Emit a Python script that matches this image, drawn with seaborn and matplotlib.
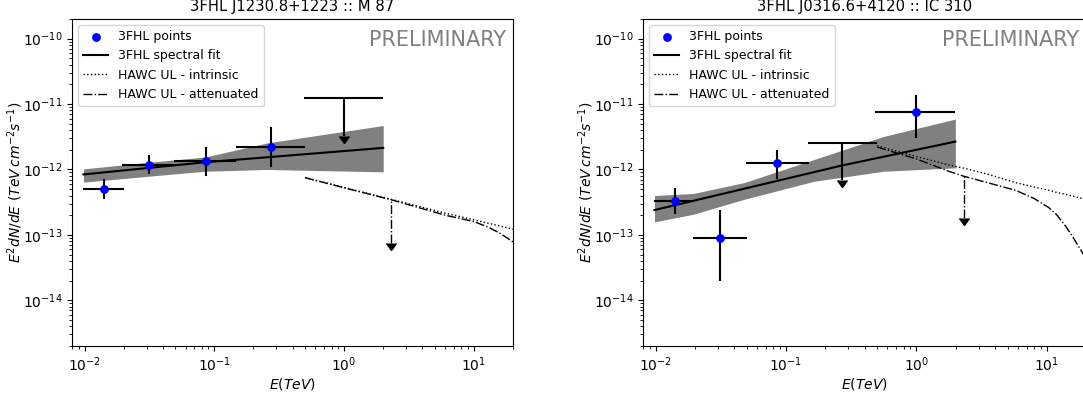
import numpy as np
import matplotlib
matplotlib.use("Agg")
import matplotlib.pyplot as plt
import seaborn as sns

# ---------------- M 87 (left panel) ----------------
m87_title = "3FHL J1230.8+1223 :: M 87"
m87_E = [0.0141, 0.0313, 0.0863, 0.272]
m87_F = [5.1e-13, 1.19e-12, 1.37e-12, 2.22e-12]
m87_E_lo = [0.00976, 0.0194, 0.0488, 0.147]
m87_E_hi = [0.020, 0.0503, 0.147, 0.50]
m87_F_lo = [3.5e-13, 8.4e-13, 7.9e-13, 1.1e-12]
m87_F_hi = [7.2e-13, 1.69e-12, 2.2e-12, 4.47e-12]
m87_ul_E = [1.0]
m87_ul_E_lo = [0.49]
m87_ul_E_hi = [2.0]
m87_ul_F = [1.26e-11]
m87_ul_end = [3.2e-12]
m87_fit_E = [0.0098, 0.085, 2.0]
m87_fit_F = [8.4e-13, 1.29e-12, 2.14e-12]
m87_band_E = [0.0098, 0.0313, 0.0848, 0.256, 2.0]
m87_band_lo = [6.4e-13, 7.9e-13, 9.4e-13, 1.0e-12, 9.2e-13]
m87_band_hi = [1.02e-12, 1.29e-12, 1.55e-12, 2.55e-12, 4.7e-12]
m87_hawc_E = [0.5, 1.0, 2.3, 6.0, 10.0, 13.0, 16.0, 20.0]
m87_hawc_int = [7.5e-13, 5.3e-13, 3.5e-13, 2.15e-13, 1.7e-13, 1.5e-13, 1.36e-13, 1.22e-13]
m87_hawc_att = [7.5e-13, 5.25e-13, 3.45e-13, 2.0e-13, 1.6e-13, 1.3e-13, 1.05e-13, 7.8e-14]
m87_hul_E = [2.3]
m87_hul_F = [3.45e-13]
m87_hul_end = [7.5e-14]

# ---------------- IC 310 (right panel) ----------------
ic_title = "3FHL J0316.6+4120 :: IC 310"
ic_E = [0.0141, 0.0313, 0.0858, 1.0]
ic_F = [3.3e-13, 9.1e-14, 1.26e-12, 7.5e-12]
ic_E_lo = [0.0098, 0.0195, 0.0489, 0.48]
ic_E_hi = [0.0195, 0.0498, 0.151, 1.99]
ic_F_lo = [2.1e-13, 2.0e-14, 7.2e-13, 3.0e-12]
ic_F_hi = [5.3e-13, 2.4e-13, 2.0e-12, 1.38e-11]
ic_ul_E = [0.268]
ic_ul_E_lo = [0.147]
ic_ul_E_hi = [0.502]
ic_ul_F = [2.55e-12]
ic_ul_end = [6.9e-13]
ic_fit_E = [0.0098, 0.268, 1.99]
ic_fit_F = [2.4e-13, 1.15e-12, 2.67e-12]
ic_band_E = [0.0098, 0.0195, 0.0477, 0.164, 0.561, 1.99]
ic_band_lo = [1.58e-13, 2.07e-13, 3.5e-13, 6.6e-13, 9.4e-13, 1.06e-12]
ic_band_hi = [4.0e-13, 4.3e-13, 6.3e-13, 1.42e-12, 3.2e-12, 5.9e-12]
ic_hawc_E = [0.5, 1.0, 1.77, 2.3, 3.5, 5.77, 8.0, 10.4, 12.0, 14.0, 16.0, 18.7, 20.0]
ic_hawc_int = [2.3e-12, 1.58e-12, 1.17e-12, 1.05e-12, 8.5e-13, 6.3e-13, 5.4e-13,
               4.8e-13, 4.45e-13, 4.15e-13, 3.9e-13, 3.6e-13, 3.5e-13]
ic_hawc_att = [2.2e-12, 1.45e-12, 9.4e-13, 7.9e-13, 6.3e-13, 4.8e-13, 3.6e-13,
               2.6e-13, 2.0e-13, 1.35e-13, 9.0e-14, 5.4e-14, 4.3e-14]
ic_hul_E = [2.3]
ic_hul_F = [7.9e-13]
ic_hul_end = [1.8e-13]

labels_order = ["3FHL points", "3FHL spectral fit", "HAWC UL - intrinsic", "HAWC UL - attenuated"]


def panel(ax, title, E, F, Elo, Ehi, Flo, Fhi, ulE, ulElo, ulEhi, ulF, ulEnd,
          fitE, fitF, bandE, bandLo, bandHi, hE, hInt, hAtt, hulE, hulF, hulEnd):
    E, F, Elo, Ehi, Flo, Fhi = map(np.asarray, (E, F, Elo, Ehi, Flo, Fhi))
    ulE, ulElo, ulEhi, ulF, ulEnd = map(np.asarray, (ulE, ulElo, ulEhi, ulF, ulEnd))
    hulF, hulEnd = np.asarray(hulF), np.asarray(hulEnd)
    ax.set_xscale("log")
    ax.set_yscale("log")
    ax.fill_between(bandE, bandLo, bandHi, color="#808080", lw=0, zorder=1)
    sns.lineplot(x=fitE, y=fitF, ax=ax, color="black", lw=1.5, label=labels_order[1], zorder=2)
    sns.lineplot(x=hE, y=hInt, ax=ax, color="black", lw=1, linestyle=":", label=labels_order[2], zorder=2)
    sns.lineplot(x=hE, y=hAtt, ax=ax, color="black", lw=1, linestyle="-.", label=labels_order[3], zorder=2)
    ax.errorbar(E, F, xerr=[E - Elo, Ehi - E], yerr=[F - Flo, Fhi - F], fmt="none",
                ecolor="black", elinewidth=1.5, zorder=3)
    eb1 = ax.errorbar(ulE, ulF, xerr=[ulE - ulElo, ulEhi - ulE], yerr=[ulF - ulEnd, np.zeros_like(ulF)],
                      uplims=True, fmt="none", ecolor="black", elinewidth=1.5, zorder=3)
    eb2 = ax.errorbar(hulE, hulF, yerr=[hulF - hulEnd, np.zeros_like(hulF)], uplims=True,
                      fmt="none", ecolor="black", elinewidth=1, zorder=3)
    for bc in eb2[2]:
        bc.set_linestyle("-.")
    for eb in (eb1, eb2):
        for cl in eb[1]:
            cl.set_markerfacecolor("black")
            cl.set_markeredgecolor("black")
            cl.set_markersize(7)
    sns.scatterplot(x=E, y=F, ax=ax, color="blue", edgecolor="blue", linewidth=0, s=40,
                    label=labels_order[0], zorder=4)
    ax.set_xlim(0.008, 20)
    ax.set_ylim(2e-15, 2e-10)
    ax.set_title(title, fontsize=10.6)
    ax.set_xlabel(r"$E (TeV)$", labelpad=1)
    ax.set_ylabel(r"$E^2 dN/dE\ (TeV\, cm^{-2} s^{-1})$", labelpad=-1.5)
    ax.text(0.985, 0.965, "PRELIMINARY", transform=ax.transAxes, ha="right", va="top",
            fontsize=15, color="#808080")
    h, l = ax.get_legend_handles_labels()
    hd = dict(zip(l, h))
    ax.legend([hd[k] for k in labels_order], labels_order, loc="upper left", fontsize=9)


fig = plt.figure(figsize=(10.83, 3.98), dpi=100)
ax1 = fig.add_axes([72 / 1083, 52 / 398, 441 / 1083, 327 / 398])
ax2 = fig.add_axes([643 / 1083, 52 / 398, 443 / 1083, 327 / 398])

panel(ax1, m87_title, m87_E, m87_F, m87_E_lo, m87_E_hi, m87_F_lo, m87_F_hi,
      m87_ul_E, m87_ul_E_lo, m87_ul_E_hi, m87_ul_F, m87_ul_end,
      m87_fit_E, m87_fit_F, m87_band_E, m87_band_lo, m87_band_hi,
      m87_hawc_E, m87_hawc_int, m87_hawc_att, m87_hul_E, m87_hul_F, m87_hul_end)
panel(ax2, ic_title, ic_E, ic_F, ic_E_lo, ic_E_hi, ic_F_lo, ic_F_hi,
      ic_ul_E, ic_ul_E_lo, ic_ul_E_hi, ic_ul_F, ic_ul_end,
      ic_fit_E, ic_fit_F, ic_band_E, ic_band_lo, ic_band_hi,
      ic_hawc_E, ic_hawc_int, ic_hawc_att, ic_hul_E, ic_hul_F, ic_hul_end)

fig.savefig("out.png", dpi=100)
